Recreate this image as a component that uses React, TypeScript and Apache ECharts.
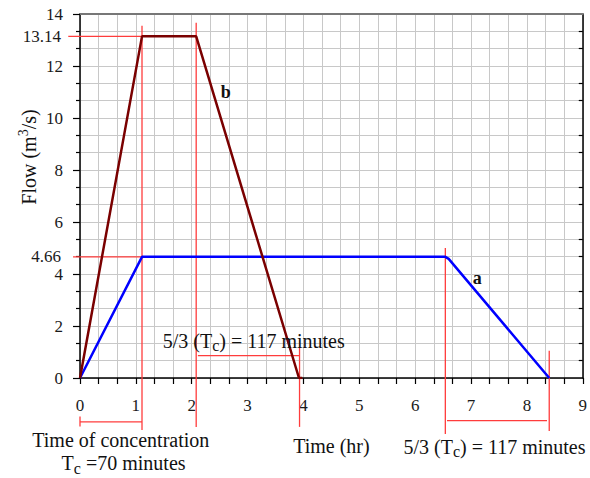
import React, { useEffect, useRef } from 'react';
import * as echarts from 'echarts';

const FONT = "'Liberation Serif', 'Times New Roman', serif";

// Hydrograph a: trapezoid with a long plateau (time in hr, flow in m3/s)
const hydrographA: number[][] = [
  [0, 0],
  [1.11, 4.66],
  [6.54, 4.66],
  [6.6, 4.58],
  [8.4, 0],
];

// Hydrograph b: higher peak, short plateau
const hydrographB: number[][] = [
  [0, 0],
  [1.11, 13.14],
  [2.08, 13.14],
  [3.92, 0],
  [3.98, 0],
];

const peakLabels = [13.14, 4.66];

// Red guide lines and dimension brackets, in data units [time, flow]
const guideLines: number[][][] = [
  [[-0.21, 13.14], [1.11, 13.14]],
  [[-0.125, 4.66], [1.11, 4.66]],
  [[1.11, 13.55], [1.11, -2.0]],
  [[2.08, 13.66], [2.08, -1.88]],
  [[3.93, 1.19], [3.93, -1.88]],
  [[6.54, 5.0], [6.54, -2.15]],
  [[8.4, 1.05], [8.4, -2.04]],
  [[0, -1.48], [0, -1.87]],
  [[0, -1.69], [1.11, -1.69]],
  [[2.11, 0.86], [3.93, 0.86]],
  [[6.57, -1.64], [8.36, -1.64]],
];

// Annotation texts anchored in data units [time, flow]
const notes: { text: string; at: number[] }[] = [
  { text: '{b|b}', at: [2.61, 11.0] },
  { text: '{b|a}', at: [7.11, 3.85] },
  { text: '{n|5/3 (T}{s|c}{n|) = 117 minutes}', at: [3.11, 1.43] },
  { text: '{n|Time of concentration}', at: [0.73, -2.38] },
  { text: '{n|T}{s|c}{n| =70 minutes}', at: [0.78, -3.27] },
  { text: '{n|Time (hr)}', at: [4.5, -2.6] },
  { text: '{n|5/3 (T}{s|c}{n|) = 117 minutes}', at: [7.42, -2.64] },
];

const rich = {
  n: { fontFamily: FONT, fontSize: 20, lineHeight: 26, fill: '#111' },
  s: { fontFamily: FONT, fontSize: 16, lineHeight: 14, verticalAlign: 'bottom', fill: '#111' },
  p: { fontFamily: FONT, fontSize: 14, lineHeight: 12, verticalAlign: 'top', fill: '#111' },
  b: { fontFamily: FONT, fontSize: 18, fontWeight: 'bold', lineHeight: 22, fill: '#111' },
};

const GRID_COLOR = '#c8c8c8';
const GUIDE_COLOR = '#ff3c3c';

export default function App() {
  const ref = useRef<HTMLDivElement>(null);

  useEffect(() => {
    if (!ref.current) return;
    const chart = echarts.init(ref.current, null, { renderer: 'svg' });

    const axisLabel = { fontFamily: FONT, fontSize: 17, color: '#1a1a1a' };

    chart.setOption({
      animation: false,
      backgroundColor: '#fff',
      grid: { left: 80, right: 6, top: 14, bottom: 100 },
      xAxis: [
        {
          type: 'value',
          min: 0,
          max: 9,
          interval: 1,
          position: 'bottom',
          axisLine: { onZero: false, lineStyle: { color: '#000', width: 1.5 } },
          axisTick: { show: true, length: 6, lineStyle: { color: '#000', width: 1.2 } },
          minorTick: { show: true, splitNumber: 3, length: 6, lineStyle: { color: '#000', width: 1.2 } },
          splitLine: { show: true, lineStyle: { color: GRID_COLOR, width: 1 } },
          minorSplitLine: { show: true, lineStyle: { color: GRID_COLOR, width: 1 } },
          axisLabel: { ...axisLabel, margin: 19, showMinLabel: true, showMaxLabel: true },
        },
        {
          type: 'value',
          min: 0,
          max: 9,
          interval: 1,
          position: 'top',
          axisLine: { show: true, onZero: false, lineStyle: { color: '#777', width: 2 } },
          axisTick: { show: false },
          axisLabel: { show: false },
          splitLine: { show: false },
        },
      ],
      yAxis: [
        {
          type: 'value',
          min: 0,
          max: 14,
          interval: 2,
          position: 'left',
          axisLine: { show: true, onZero: false, lineStyle: { color: '#000', width: 1.5 } },
          axisTick: { show: true, length: 7, lineStyle: { color: '#000', width: 1.2 } },
          minorTick: { show: true, splitNumber: 3, length: 4, lineStyle: { color: '#000', width: 1.2 } },
          splitLine: { show: true, lineStyle: { color: GRID_COLOR, width: 1 } },
          minorSplitLine: { show: true, lineStyle: { color: GRID_COLOR, width: 1 } },
          axisLabel: { ...axisLabel, margin: 17, showMinLabel: true, showMaxLabel: true },
        },
        {
          type: 'value',
          min: 0,
          max: 14,
          interval: 2,
          position: 'right',
          axisLine: { show: true, onZero: false, lineStyle: { color: '#000', width: 1.5 } },
          axisTick: { show: false, inside: true },
          minorTick: { show: true, splitNumber: 3, length: 4, lineStyle: { color: '#000', width: 1.2 } },
          axisLabel: { show: false },
          splitLine: { show: false },
        },
      ],
      series: [
        {
          name: 'a',
          type: 'line',
          xAxisIndex: 0,
          yAxisIndex: 0,
          data: hydrographA,
          showSymbol: false,
          z: 5,
          lineStyle: { color: '#0000ff', width: 2.5 },
        },
        {
          name: 'b',
          type: 'line',
          xAxisIndex: 0,
          yAxisIndex: 0,
          data: hydrographB,
          showSymbol: false,
          z: 5,
          lineStyle: { color: '#7a0000', width: 2.5 },
        },
      ],
    });

    const toPx = (p: number[]) =>
      chart.convertToPixel({ xAxisIndex: 0, yAxisIndex: 0 }, p) as number[];

    const graphics: any[] = [];

    guideLines.forEach(([a, b]) => {
      const p1 = toPx(a);
      const p2 = toPx(b);
      graphics.push({
        type: 'line',
        z: 3,
        shape: { x1: p1[0], y1: p1[1], x2: p2[0], y2: p2[1] },
        style: { stroke: GUIDE_COLOR, lineWidth: 1.3 },
      });
    });

    peakLabels.forEach((v) => {
      const p = toPx([0, v]);
      graphics.push({
        type: 'text',
        x: 61,
        y: p[1],
        style: {
          text: v.toFixed(2),
          fontFamily: FONT,
          fontSize: 17,
          fill: '#1a1a1a',
          align: 'right',
          verticalAlign: 'middle',
        },
      });
    });

    notes.forEach((n) => {
      const p = toPx(n.at);
      graphics.push({
        type: 'text',
        x: p[0],
        y: p[1],
        z: 10,
        style: { text: n.text, rich, align: 'center', verticalAlign: 'middle' },
      });
    });

    const mid = toPx([0, 8.5]);
    graphics.push({
      type: 'text',
      x: 29,
      y: mid[1],
      rotation: Math.PI / 2,
      style: {
        text: '{n|Flow (m}{p|3}{n|/s)}',
        rich,
        align: 'center',
        verticalAlign: 'middle',
      },
    });

    chart.setOption({ graphic: graphics });

    return () => chart.dispose();
  }, []);

  return (
    <div
      ref={ref}
      style={{ position: 'fixed', left: 0, top: 0, width: 590, height: 478, background: '#fff' }}
    />
  );
}
